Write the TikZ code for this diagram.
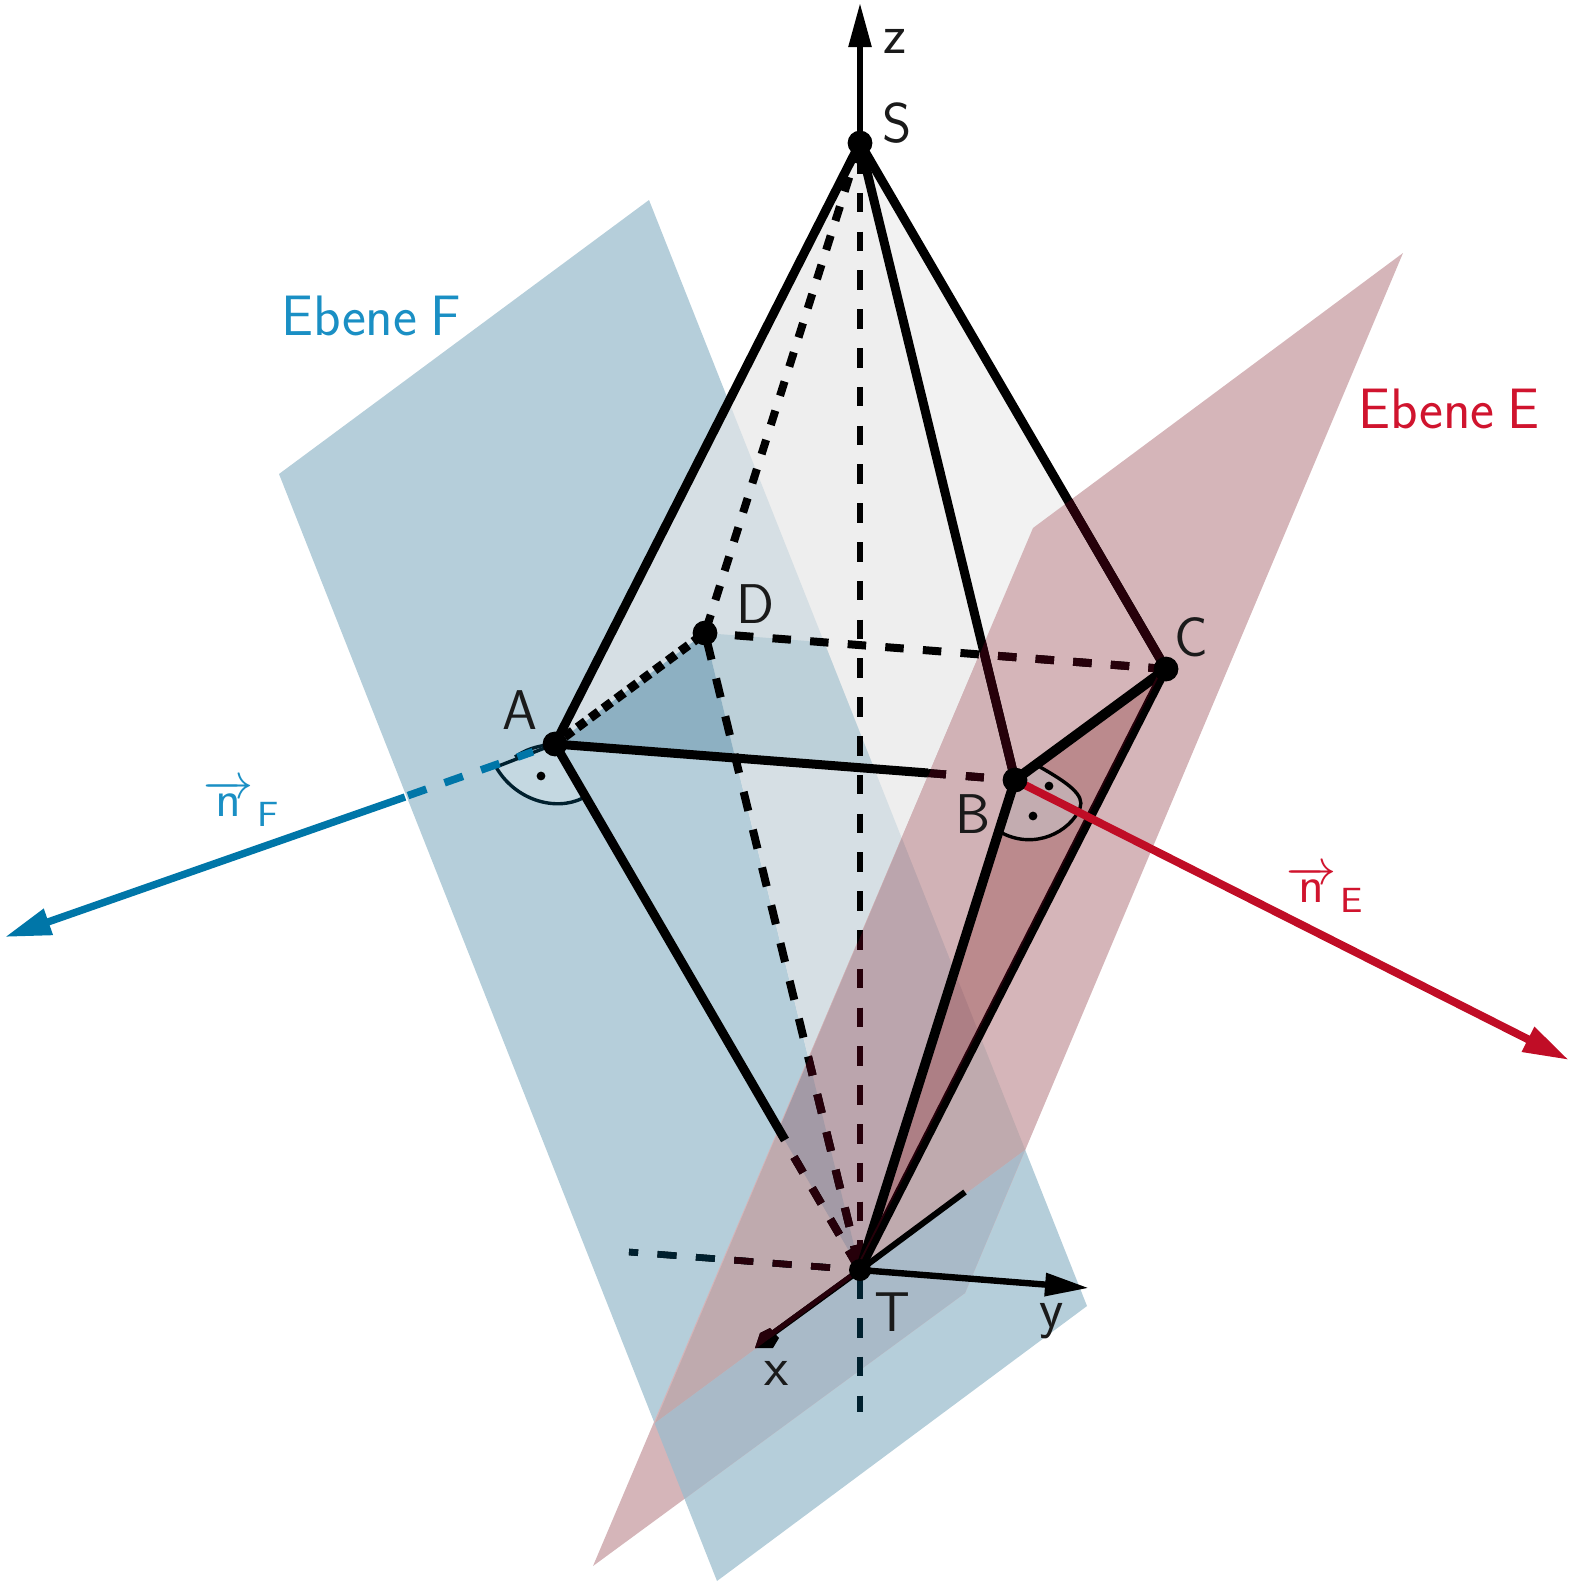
\documentclass[tikz,border=0pt]{standalone}
\usepackage{fontspec}
\usetikzlibrary{arrows.meta,calc}
\definecolor{cF}{HTML}{B5CEDA}
\definecolor{cE}{HTML}{D5B5B9}
\definecolor{cEl}{HTML}{D1B2B6}
\definecolor{gA}{HTML}{EEEEEE}
\definecolor{gB}{HTML}{F2F2F2}
\definecolor{fR}{HTML}{D6DFE4}
\definecolor{fQ}{HTML}{BCD0D9}
\definecolor{fT}{HTML}{8DB0C2}
\definecolor{oU}{HTML}{BFAAAE}
\definecolor{oL}{HTML}{A9BAC8}
\definecolor{oR}{HTML}{BBA5AD}
\definecolor{oT}{HTML}{A39AA6}
\definecolor{dE}{HTML}{BB8A8D}
\definecolor{dF}{HTML}{AD7F85}
\definecolor{tintE}{HTML}{26000A}
\definecolor{tintF}{HTML}{00202E}
\definecolor{blueL}{HTML}{0076A8}
\definecolor{blueT}{HTML}{1A8FC4}
\definecolor{redL}{HTML}{C00D26}
\definecolor{redT}{HTML}{D0142E}
\definecolor{lab}{HTML}{1A1A1A}
\newcommand\planeF{(Fa)--(Fb)--(Fc)--(Fd)--cycle}
\newcommand\planeE{(Ea)--(Eb)--(Ec)--(Ed)--cycle}
\newcommand\planeEu{(Ea)--(Eb)--(I2)--(I1)--cycle}
\newcommand\planeEd{(I2)--(Ec)--(Ed)--(I1)--cycle}
\newcommand\regR{(S)--(A)--(D)--(T)--(C)--cycle}
\newcommand\tightword{\spaceskip=0.23em\relax}
\newcommand\normalvec[1]{$\overrightarrow{\mathsf{n}}\hspace{0.8pt}\lower2pt\hbox{$\scriptstyle\mathsf{#1}$}$}
\newcommand\hiddenlines[1]{%
  \draw[front,#1] (S)--(C);
  \draw[front,#1] (S)--(B);
  \draw[edge,#1,dash pattern=on 9.25pt off 9.6pt,dash phase=3.85pt] (D)--(C);
  \draw[edge,#1,dash pattern=on 9pt off 10pt] (ABs)--(B);
  \draw[zaxis,#1] (Ztop)--(Zend);
  \draw[edge,#1,dash pattern=on 9.75pt off 9.7pt,dash phase=15.5pt] (D)--(T);
  \draw[edge,#1,dash pattern=on 9pt off 9pt] (ATd)--(T);
  \draw[zaxis,#1,dash pattern=on 9.5pt off 9.75pt] (Ls)--(Le);
  \draw[axisline,#1] (T)--(Xb);
  \fill[#1] (755,1348)--(773,1348)--(779,1338)--(770,1328)--(760,1333)--cycle;
}
\tikzset{
  edge/.style={line width=4pt,black},
  front/.style={line width=4.5pt,black},
  zaxis/.style={line width=3.3pt,black,dash pattern=on 9.75pt off 9.65pt},
  axisline/.style={line width=3pt,black},
  vertex/.style={circle,fill=black,inner sep=0pt,minimum size=12.4pt},
  thinmark/.style={line width=1.7pt},
  markdot/.style={circle,fill=black,inner sep=0pt,minimum size=4.4pt},
  letter/.style={text=lab,font=\sffamily\fontsize{28}{32}\selectfont,inner sep=0pt},
  planetext/.style={font=\sffamily\fontsize{28.5}{34}\selectfont\tightword,inner sep=0pt},
  vectext/.style={scale=2.5,inner sep=0pt},
}
\begin{document}
\begin{tikzpicture}[x=0.5pt,y=-0.5pt]
\useasboundingbox (0,0) rectangle (1570,1585);
% corner points
\coordinate (Fa) at (649,200); \coordinate (Fb) at (279,474);
\coordinate (Fc) at (717,1581); \coordinate (Fd) at (1087,1306);
\coordinate (Ea) at (1403,253); \coordinate (Eb) at (1033,528);
\coordinate (Ec) at (593,1566); \coordinate (Ed) at (965,1293);
\coordinate (I1) at (1025,1150); \coordinate (I2) at (655,1423);
\coordinate (S) at (860,143); \coordinate (A) at (555,744);
\coordinate (B) at (1015,780); \coordinate (C) at (1166,669);
\coordinate (D) at (705,633); \coordinate (T) at (860,1270);
\coordinate (X) at (735,757);
\coordinate (ABs) at (928,773);
\coordinate (ATe) at (785,1140); \coordinate (ATd) at (794,1157);
\coordinate (Ztop) at (860,154); \coordinate (Zend) at (860,1412);
\coordinate (Ls) at (830,1267.6); \coordinate (Le) at (629,1252);
\coordinate (Xf) at (965,1192); \coordinate (Xb) at (768,1337);
\coordinate (Ytip) at (1089,1288); \coordinate (Ztip) at (860,3);
\coordinate (Ftip) at (5,937); \coordinate (Fs) at (405,797);
\coordinate (Fd1) at (408,795.6); \coordinate (Fd2) at (533,751.7);
\coordinate (Etip) at (1569,1060);
% plane F and pyramid surfaces
\fill[cF] \planeF;
\fill[gA] \regR;
\fill[gB] (S)--(B)--(C)--cycle;
\begin{scope}
  \clip \planeF;
  \fill[fR] \regR;
  \fill[fQ] (D)--(X)--(B)--(C)--cycle;
  \fill[fT] (A)--(D)--(X)--cycle;
\end{scope}
% plane E
\fill[cE] \planeE;
\begin{scope}
  \clip \planeE;
  \fill[cEl] (S)--(A)--(T)--(B)--cycle;
\end{scope}
\begin{scope}
  \clip \planeF;
  \fill[oU] \planeEu;
  \fill[oL] \planeEd;
  \begin{scope}
    \clip \planeEu;
    \fill[oR] \regR;
    \fill[oT] (A)--(D)--(T)--cycle;
  \end{scope}
\end{scope}
\fill[dE] (T)--(B)--(C)--cycle;
\begin{scope}
  \clip \planeF;
  \fill[dF] (T)--(B)--(C)--cycle;
\end{scope}
% right-angle marks
\fill[fill=cF!80!white] (A)--(496,767) .. controls (515,800) and (555,812) .. (583,798)--cycle;
\draw[thinmark,tintF] (A)--(496,767) .. controls (515,800) and (555,812) .. (583,798);
\draw[thinmark,tintF] (515,757) .. controls (525,750) and (535,746) .. (A);
\node[markdot] (mA) at (541,776) {};
\path[fill=oU!80!cE] (B)--(1040,767) .. controls (1068,783) and (1085,795) .. (1080,808)
   .. controls (1070,832) and (1035,850) .. (1002,833)--cycle;
\draw[thinmark] (1040,767) .. controls (1068,783) and (1085,795) .. (1080,808)
   .. controls (1070,832) and (1035,850) .. (1002,833);
\node[markdot] (mB1) at (1049,786) {};
\node[markdot] (mB2) at (1033,816) {};
% lines behind
\hiddenlines{black}
\begin{scope}
  \clip (0,1245) rectangle (1570,1585);
  \clip \planeF;
  \draw[zaxis,tintF] (Ztop)--(Zend);
  \draw[zaxis,tintF,dash pattern=on 9.5pt off 9.75pt] (Ls)--(Le);
\end{scope}
\draw[edge,dash pattern=on 7.5pt off 7.8pt,dash phase=13.3pt] (D)--(S);
\draw[front,dash pattern=on 5pt off 3pt,dash phase=2pt] (A)--(D);
\begin{scope}
  \clip \planeEu;
  \hiddenlines{tintE}
\end{scope}
% lines in front
\draw[front] (S)--(A);
\draw[front] (A)--(ABs);
\draw[front] (A)--(ATe);
\draw[line width=5pt] (B)--(C);
\draw[line width=4.8pt] (B)--(T);
\draw[line width=2.6pt,tintE,transform canvas={xshift=-1.6pt,yshift=-0.7pt}] (T)--(C);
\draw[line width=3.5pt,transform canvas={xshift=0.5pt,yshift=0.3pt}] (T)--(C);
\draw[axisline] (T)--(Xf);
\draw[line width=3.2pt,-{Triangle[length=22pt,width=11pt]}] (T)--(Ytip);
\draw[line width=2.8pt,-{Triangle[length=22pt,width=11pt]}] (S)--(Ztip);
% normal vectors
\draw[line width=3.7pt,blueL,-{Triangle[length=23pt,width=13pt]}] (Fs)--(Ftip);
\draw[line width=3.8pt,blueL,dash pattern=on 9.75pt off 9.6pt] (Fd1)--(Fd2);
\draw[line width=4pt,redL,-{Triangle[length=23pt,width=13pt]}] (B)--(Etip);
% vertices
\node[vertex] (vS) at (S) {};
\node[vertex] (vA) at (A) {};
\node[vertex] (vB) at (B) {};
\node[vertex] (vC) at (C) {};
\node[vertex] (vD) at (D) {};
\node[vertex,minimum size=11pt] (vT) at (T) {};
% labels
\node[letter] (lz) at (895,41) {z};
\node[letter] (lS) at (897,123) {S};
\node[letter] (lA) at (520,710) {A};
\node[letter] (lD) at (755,604) {D};
\node[letter] (lC) at (1191,637) {C};
\node[letter] (lB) at (973,814) {B};
\node[letter] (lT) at (892,1312) {T};
\node[letter] (ly) at (1052,1321) {y};
\node[letter] (lx) at (777,1373) {x};
\node[planetext,text=blueT] (tF) at (371,316) {Ebene F};
\node[planetext,text=redT] (tE) at (1449,409) {Ebene E};
\node[vectext,text=blueT] (nF) at (241,803) {\normalvec{F}};
\node[vectext,text=redT] (nE) at (1325,889) {\normalvec{E}};
\end{tikzpicture}
\end{document}
